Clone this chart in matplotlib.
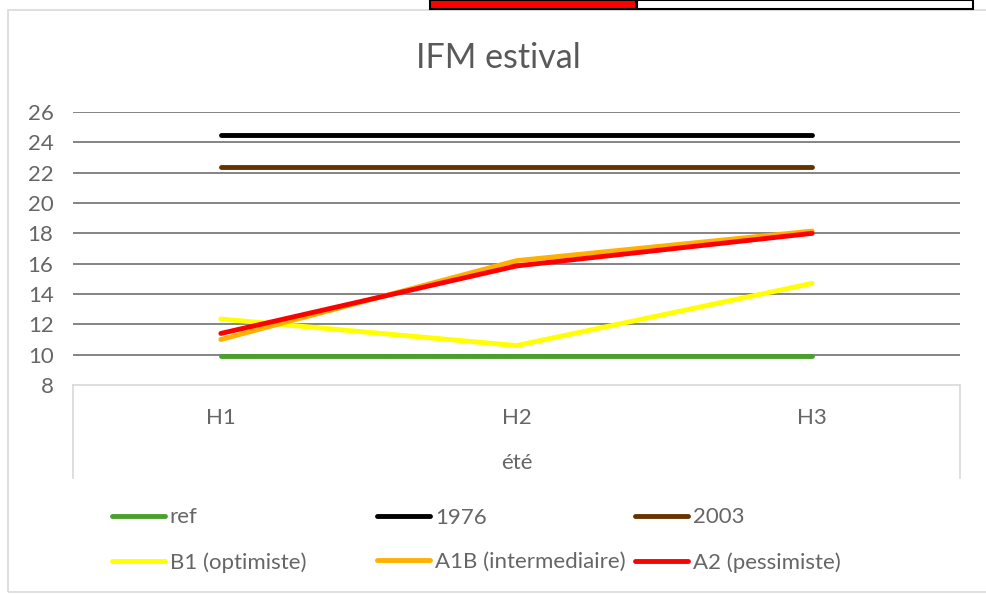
import matplotlib.pyplot as plt
from matplotlib.patches import Rectangle

plt.rcParams['font.family'] = ['Lato', 'DejaVu Sans']

# Summer fire-weather index by horizon
horizons = ['H1', 'H2', 'H3']
season = 'été'
ref = [9.9, 9.9, 9.9]
y1976 = [24.5, 24.5, 24.5]
y2003 = [22.4, 22.4, 22.4]
b1 = [12.35, 10.6, 14.7]
a1b = [11.0, 16.2, 18.15]
a2 = [11.4, 15.85, 18.0]

series = [
    ('ref', ref, '#4aa02c'),
    ('1976', y1976, '#000000'),
    ('2003', y2003, '#663300'),
    ('B1 (optimiste)', b1, '#ffff00'),
    ('A1B (intermediaire)', a1b, '#ffb000'),
    ('A2 (pessimiste)', a2, '#ff0000'),
]

W, H = 986, 595
fig = plt.figure(figsize=(W / 100, H / 100), dpi=100)
fig.patch.set_facecolor('white')

# chart frame and the boxes peeking in at the top
fig.patches.append(Rectangle((8 / W, 3 / H), 1.0, 582 / H, transform=fig.transFigure,
                             facecolor='none', edgecolor='#d9d9d9', lw=1.2, zorder=0))
fig.patches.append(Rectangle((430 / W, 1 - 9 / H), 206 / W, 9 / H, transform=fig.transFigure,
                             facecolor='#ff0000', edgecolor='black', lw=1.5, zorder=5))
fig.patches.append(Rectangle((637 / W, 1 - 9 / H), 336 / W, 9 / H, transform=fig.transFigure,
                             facecolor='white', edgecolor='black', lw=1.5, zorder=5))

ax = fig.add_axes([73 / W, (H - 385) / H, 887 / W, 273 / H])
ax.set_facecolor('none')

x = list(range(len(horizons)))
for name, vals, color in series:
    ax.plot(x, vals, color=color, lw=3.5, solid_capstyle='round', label=name, zorder=3)

ax.set_xlim(-0.5, len(horizons) - 0.5)
ax.set_ylim(8, 26)
ax.set_yticks(range(8, 27, 2))
ax.set_xticks([])
ax.tick_params(axis='y', length=0, labelsize=16, labelcolor='#666666', pad=14)
for v in range(10, 27, 2):
    ax.axhline(v, color='#707070', lw=1.2, zorder=1)
for side in ['top', 'right', 'left']:
    ax.spines[side].set_visible(False)
ax.spines['bottom'].set_color('#d9d9d9')
ax.spines['bottom'].set_linewidth(1.2)

# two-level category axis box
depth = 93 / 273
for xe in (0, 1):
    ax.plot([xe, xe], [0, -depth], transform=ax.transAxes, color='#d9d9d9', lw=1.2, clip_on=False)
for i, h in enumerate(horizons):
    ax.text(i, -33 / 273, h, transform=ax.get_xaxis_transform(), ha='center', va='center',
            fontsize=16, color='#666666')
ax.text(0.5, -78 / 273, season, transform=ax.transAxes, ha='center', va='center',
        fontsize=16, color='#666666')

fig.text(498 / W, 1 - 58 / H, 'IFM estival', ha='center', va='center', fontsize=24.5, color='#595959')

# legend: three columns of two rows
handles, labels = ax.get_legend_handles_labels()
cols = [(112, [0, 3]), (377, [1, 4]), (635, [2, 5])]
for xs, idx in cols:
    fig.legend([handles[i] for i in idx], [labels[i] for i in idx],
               loc='center left', bbox_to_anchor=(xs / W, 1 - 540 / H),
               frameon=False, fontsize=16, labelcolor='#666666',
               handlelength=2.4, handletextpad=0.2, labelspacing=1.1,
               borderpad=0, borderaxespad=0)

fig.savefig('out.png', dpi=100, facecolor='white')
